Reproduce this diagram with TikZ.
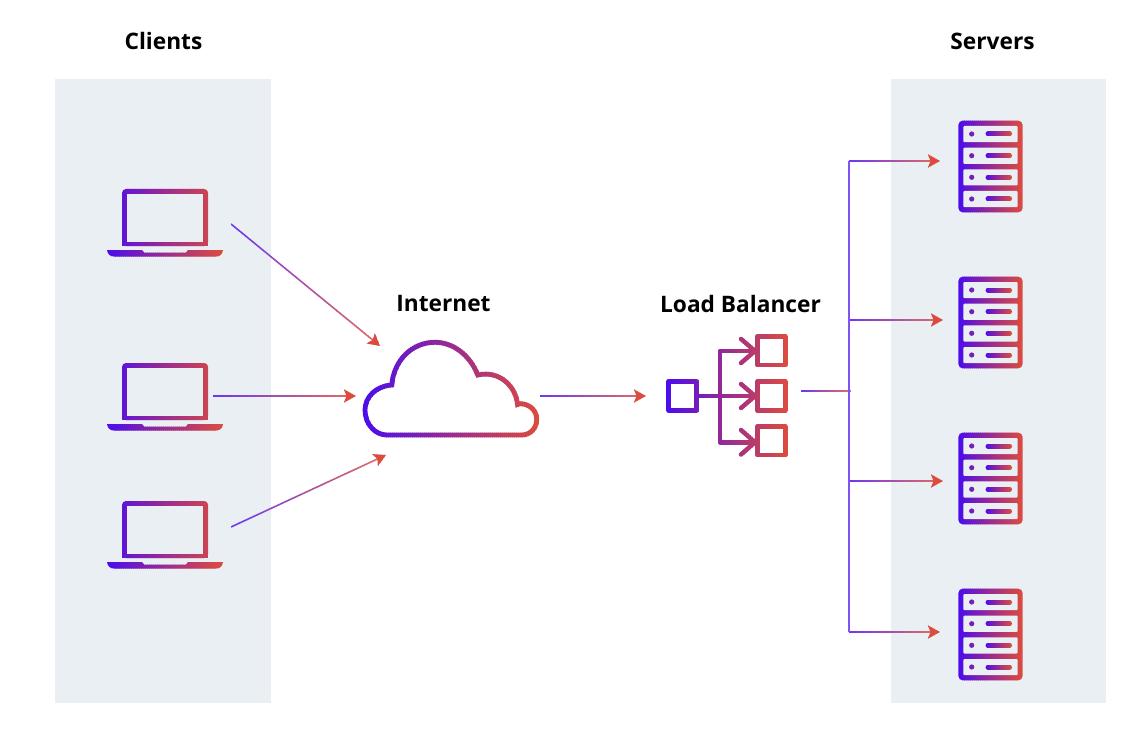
\documentclass[tikz,border=0pt]{standalone}
\usepackage{fontspec}
\setmainfont{Open Sans}
\usetikzlibrary{arrows.meta}
\definecolor{gcS}{HTML}{4A0BEF}
\definecolor{gcM}{HTML}{9A2C90}
\definecolor{gcE}{HTML}{DC4C3E}
\definecolor{panel}{HTML}{EAEFF4}
\newcommand\gradstrips[3]{%
  \pgfmathtruncatemacro\gsN{max(2,round((#2-#1)/2))}%
  \pgfmathtruncatemacro\gsL{\gsN-1}%
  \foreach \gsi in {0,...,\gsL}{%
    \begin{scope}
      \pgfmathsetmacro\gsa{#1+(#2-#1)*\gsi/\gsN}%
      \pgfmathsetmacro\gsb{#1+(#2-#1)*(\gsi+1)/\gsN+0.5}%
      \pgfmathsetmacro\gst{(\gsi+0.5)/\gsN}%
      \pgfmathparse{\gst<0.5?1:0}%
      \ifnum\pgfmathresult=1
        \pgfmathsetmacro\gsp{200*\gst}\colorlet{gc}{gcM!\gsp!gcS}%
      \else
        \pgfmathsetmacro\gsp{200*\gst-100}\colorlet{gc}{gcE!\gsp!gcM}%
      \fi
      \clip (\gsa,0) rectangle (\gsb,730);
      #3
    \end{scope}
  }%
}
\tikzset{
  paneltitle/.style={font=\bfseries\fontsize{22.7}{27}\selectfont,inner sep=0pt,text=black},
  panelbox/.style={fill=panel,draw=none},
  anchorbox/.style={inner sep=0pt,minimum size=0pt,draw=none},
  conn/.style={draw=gc!82!white,line width=1.5pt,-{Stealth[length=12pt,width=13pt,inset=2.5pt,color=gcE]}},
  plainconn/.style={draw=gc!82!white,line width=1.5pt},
  lbstroke/.style={draw=gc,line width=4.4pt,line cap=round,line join=round},
}
\newcommand\laptop[2]{%
  \node[anchorbox] (#1) at (165,218+#2) {};
  \begin{scope}[shift={(0,#2)}]
    \gradstrips{107}{223}{%
      \fill[gc,rounded corners=4pt] (122,246) -- (122,189) -- (208,189) -- (208,246) -- cycle;
      \fill[gc] (122,240) rectangle (208,246);
      \fill[gc] (107,250) -- (142,250) -- (144,252.5) -- (186,252.5) -- (188,250) -- (223,250)
        .. controls (222.5,254) and (220,256.5) .. (216,256.5) -- (114,256.5)
        .. controls (110,256.5) and (107.5,254) .. (107,250) -- cycle;
    }
    \fill[panel] (127,193.7) rectangle (203,241.7);
  \end{scope}
}
\newcommand\serverbox[2]{%
  \node[anchorbox] (#1) at (990.5,166.5+#2) {};
  \begin{scope}[shift={(0,#2)}]
    \gradstrips{958.3}{1022.7}{%
      \fill[gc,rounded corners=4.5pt] (958.3,120.7) rectangle (1022.7,212.3);
    }
    \foreach \sy in {126,147.7,169.3,191}{%
      \fill[panel,rounded corners=1pt] (963.3,\sy) rectangle (1017.7,\sy+16.2);
    }
    \foreach \sy in {134,155.7,177.3,199}{%
      \fill[gcM!55!gcS] (971.7,\sy) circle (2.6);
    }
    \gradstrips{985.3}{1012}{%
      \foreach \sy in {134,155.7,177.3,199}{%
        \draw[gc,line width=5pt,line cap=round] (988,\sy) -- (1009.5,\sy);
      }
    }
  \end{scope}
}
\begin{document}
\begin{tikzpicture}[x=1pt,y=-1pt]
\useasboundingbox (0,0) rectangle (1148,730);
\fill[white] (0,0) rectangle (1148,730);
\node[panelbox,minimum width=216pt,minimum height=624pt,inner sep=0pt] (clientpanel) at (163,391) {};
\node[panelbox,minimum width=215.5pt,minimum height=624pt,inner sep=0pt] (serverpanel) at (998.5,391) {};
\node[paneltitle] (clientstitle) at (163.5,41) {Clients};
\node[paneltitle] (serverstitle) at (992.5,41) {Servers};
\node[paneltitle] (internettitle) at (443.5,304) {Internet};
\node[paneltitle] (lbtitle) at (740.5,304) {Load Balancer};

\laptop{laptopA}{0}
\laptop{laptopB}{174}
\laptop{laptopC}{312}

% cloud
\node[anchorbox] (cloud) at (451,396) {};
\fill[white] (386.7,435) -- (521.7,435) .. controls (530.5,435) and (536.7,428) .. (536.7,419.3)
  .. controls (536.7,410.5) and (529.5,403.7) .. (520,403.7) -- (517.5,404.5)
  .. controls (516,387) and (500,370) .. (477.7,375)
  .. controls (470,355) and (453,342.3) .. (435,342.3)
  .. controls (412,342.3) and (394,360) .. (391.7,385)
  .. controls (376,386) and (365,397) .. (365,410)
  .. controls (365,425) and (376,435) .. (386.7,435) -- cycle;
\gradstrips{362}{540}{%
\draw[gc,line width=4.8pt,miter limit=3] (386.7,435) -- (521.7,435) .. controls (530.5,435) and (536.7,428) .. (536.7,419.3)
  .. controls (536.7,410.5) and (529.5,403.7) .. (520,403.7) -- (517.5,404.5)
  .. controls (516,387) and (500,370) .. (477.7,375)
  .. controls (470,355) and (453,342.3) .. (435,342.3)
  .. controls (412,342.3) and (394,360) .. (391.7,385)
  .. controls (376,386) and (365,397) .. (365,410)
  .. controls (365,425) and (376,435) .. (386.7,435) -- cycle;
}

% load balancer icon
\node[anchorbox] (lbicon) at (727,396) {};
\gradstrips{666}{788}{%
  \draw[lbstroke] (668.6,381.6) rectangle (696.5,410.4);
  \draw[lbstroke] (757.3,336.6) rectangle (785.4,365);
  \draw[lbstroke] (757.3,381.6) rectangle (785.4,410.4);
  \draw[lbstroke] (757.3,426.6) rectangle (785.4,455);
  \draw[lbstroke] (698,396) -- (755,396);
  \draw[lbstroke] (755,351) -- (720,351) -- (720,442.3) -- (755,442.3);
  \draw[lbstroke] (741,339) -- (755,351) -- (741,363);
  \draw[lbstroke] (741,384) -- (755,396) -- (741,408);
  \draw[lbstroke] (741,430) -- (755,442.3) -- (741,454.5);
}

\serverbox{serverA}{0}
\serverbox{serverB}{156}
\serverbox{serverC}{312}
\serverbox{serverD}{468}

% connector ends
\coordinate (c1s) at (231,224);  \coordinate (c1e) at (380,346);
\coordinate (c2s) at (213,396);  \coordinate (c2e) at (356,396);
\coordinate (c3s) at (231,527);  \coordinate (c3e) at (386,455);
\coordinate (c4s) at (540,396);  \coordinate (c4e) at (646,396);
\coordinate (c5s) at (801,391);  \coordinate (c5e) at (851,391);
\coordinate (treetop) at (849,161);  \coordinate (treebot) at (849,632);
\coordinate (b1e) at (940,161);
\coordinate (b2s) at (849,320);  \coordinate (b2e) at (943,320);
\coordinate (b3s) at (849,481);  \coordinate (b3e) at (943,481);
\coordinate (b4e) at (940,632);

\gradstrips{231}{380}{\draw[conn] (c1s) -- (c1e);}
\gradstrips{213}{356}{\draw[conn] (c2s) -- (c2e);}
\gradstrips{231}{386}{\draw[conn] (c3s) -- (c3e);}
\gradstrips{540}{646}{\draw[conn] (c4s) -- (c4e);}
\gradstrips{801}{851}{\draw[plainconn] (c5s) -- (c5e);}
\gradstrips{849}{940}{\draw[conn] (treetop) -- (b1e);}
\gradstrips{849}{943}{\draw[conn] (b2s) -- (b2e);}
\gradstrips{849}{943}{\draw[conn] (b3s) -- (b3e);}
\gradstrips{849}{940}{\draw[conn] (treebot) -- (b4e);}
\draw[draw=gcS!70!white,line width=1.5pt] (treetop) -- (treebot);
\end{tikzpicture}
\end{document}
